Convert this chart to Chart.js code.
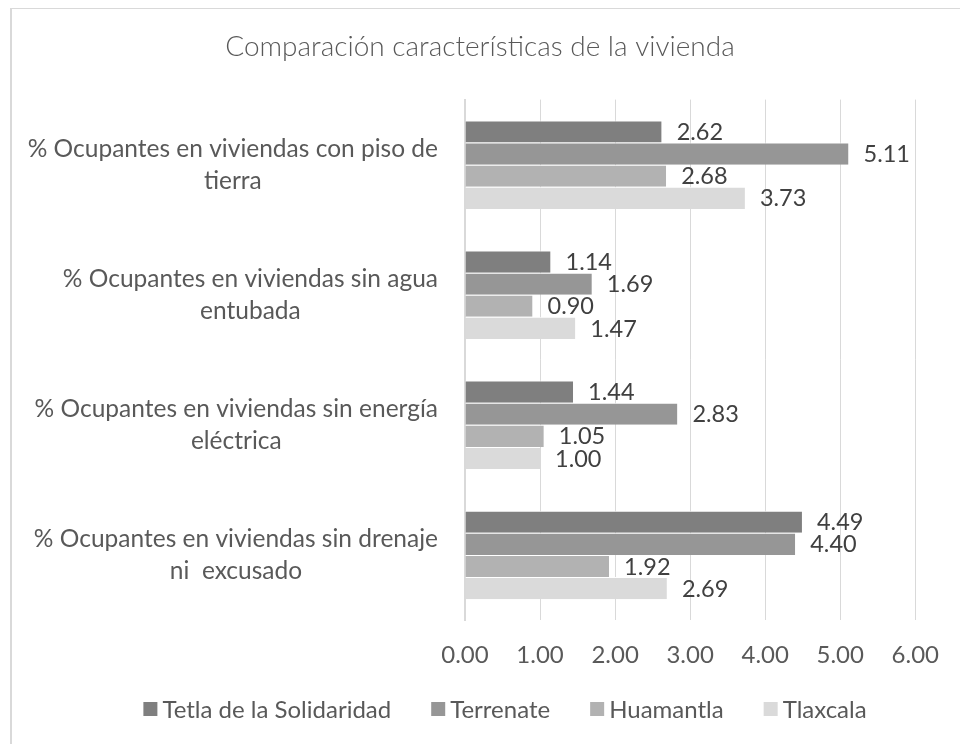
<!DOCTYPE html>
<html>
<head>
<meta charset="utf-8">
<script src="https://cdn.jsdelivr.net/npm/chart.js@4"></script>
<style>
html,body{margin:0;padding:0;background:#fff;overflow:hidden;}
#frame{position:absolute;left:10px;top:8px;width:980px;height:760px;border-left:2px solid #d9d9d9;border-top:1px solid #d9d9d9;box-sizing:border-box;}
#wrap{position:absolute;left:0;top:0;width:960px;height:744px;}
</style>
</head>
<body>
<div id="frame"></div>
<div id="wrap"><canvas id="c"></canvas></div>
<script>
const categories = [
  ["% Ocupantes en viviendas con piso de", "tierra"],
  ["% Ocupantes en viviendas sin agua", "entubada"],
  ["% Ocupantes en viviendas sin energía", "eléctrica"],
  ["% Ocupantes en viviendas sin drenaje", "ni  excusado"]
];
const seriesNames = ["Tetla de la Solidaridad", "Terrenate", "Huamantla", "Tlaxcala"];
const tetla     = [2.62, 1.14, 1.44, 4.49];
const terrenate = [5.11, 1.69, 2.83, 4.40];
const huamantla = [2.68, 0.90, 1.05, 1.92];
const tlaxcala  = [3.73, 1.47, 1.00, 2.69];
const xTicks = [0, 1, 2, 3, 4, 5, 6];
const titleText = "Comparación características de la vivienda";

const colors = ["#7f7f7f", "#969696", "#b2b2b2", "#dadada"];
const FONT = "Lato";
const TEXT = "#595959";

const catLabelPlugin = {
  id: "catLabels",
  afterDraw(chart) {
    const ctx = chart.ctx;
    const ys = chart.scales.y;
    ctx.save();
    ctx.font = "24.5px " + FONT;
    ctx.fillStyle = TEXT;
    ctx.textAlign = "center";
    ctx.textBaseline = "middle";
    const right = ys.right - 27;
    const lh = 32;
    categories.forEach((lines, i) => {
      const yc = ys.getPixelForTick(i);
      const w = Math.max(...lines.map(l => ctx.measureText(l).width));
      const cx = right - w / 2;
      lines.forEach((l, k) => {
        ctx.fillText(l, cx, yc + (k - (lines.length - 1) / 2) * lh);
      });
    });
    ctx.restore();
  }
};

const valueLabelPlugin = {
  id: "valueLabels",
  afterDatasetsDraw(chart) {
    const ctx = chart.ctx;
    ctx.save();
    ctx.font = "23.5px " + FONT;
    ctx.fillStyle = "#404040";
    ctx.textAlign = "left";
    ctx.textBaseline = "middle";
    chart.data.datasets.forEach((ds, di) => {
      const meta = chart.getDatasetMeta(di);
      meta.data.forEach((el, i) => {
        ctx.fillText(ds.data[i].toFixed(2), el.x + 15, el.y + 1);
      });
    });
    ctx.restore();
  }
};

const legendPlugin = {
  id: "customLegend",
  afterDraw(chart) {
    const ctx = chart.ctx;
    ctx.save();
    ctx.font = "24px " + FONT;
    ctx.textBaseline = "middle";
    ctx.textAlign = "left";
    const box = 14, gap = 5, spacing = 40;
    const items = chart.data.datasets.map(ds => ({
      text: ds.label, color: ds.backgroundColor,
      w: box + gap + ctx.measureText(ds.label).width
    }));
    const total = items.reduce((a, it) => a + it.w, 0) + spacing * (items.length - 1);
    const cx = 505, cy = 709;
    let x = cx - total / 2;
    items.forEach(it => {
      ctx.fillStyle = it.color;
      ctx.fillRect(x, cy - box / 2, box, box);
      ctx.fillStyle = TEXT;
      ctx.fillText(it.text, x + box + gap, cy + 1);
      x += it.w + spacing;
    });
    ctx.restore();
  }
};

const allSeries = [tetla, terrenate, huamantla, tlaxcala];

new Chart(document.getElementById("c"), {
  type: "bar",
  data: {
    labels: categories,
    datasets: allSeries.map((d, i) => ({
      label: seriesNames[i],
      data: d,
      backgroundColor: colors[i],
      borderColor: "#ffffff",
      borderWidth: {top: 1, bottom: 0, left: 0, right: 0},
      borderSkipped: false,
      categoryPercentage: 0.68,
      barPercentage: 1.0
    }))
  },
  options: {
    indexAxis: "y",
    responsive: true,
    maintainAspectRatio: false,
    animation: false,
    layout: {padding: {left: 0, right: 0, top: 0, bottom: 74}},
    scales: {
      x: {
        min: 0, max: 6,
        afterBuildTicks(s) { s.ticks = xTicks.map(v => ({value: v})); },
        afterFit(s) { s.height = 50; },
        ticks: {
          callback: v => Number(v).toFixed(2),
          font: {family: FONT, size: 24},
          color: TEXT,
          padding: 21,
          maxRotation: 0
        },
        grid: {color: "#d9d9d9", lineWidth: 1, drawTicks: false},
        border: {display: false}
      },
      y: {
        position: "left",
        afterFit(s) { s.width = 465; },
        ticks: {display: false},
        grid: {display: false},
        border: {display: true, color: "#d9d9d9", width: 2}
      },
      yr: {
        position: "right",
        type: "linear",
        afterFit(s) { s.width = 41; },
        ticks: {display: false},
        grid: {display: false},
        border: {display: false}
      }
    },
    plugins: {
      title: {
        display: true,
        text: titleText,
        color: TEXT,
        font: {family: FONT, size: 28, weight: "300"},
        padding: {top: 30, bottom: 36}
      },
      legend: {display: false},
      tooltip: {enabled: false}
    }
  },
  plugins: [catLabelPlugin, valueLabelPlugin, legendPlugin]
});
</script>
</body>
</html>
